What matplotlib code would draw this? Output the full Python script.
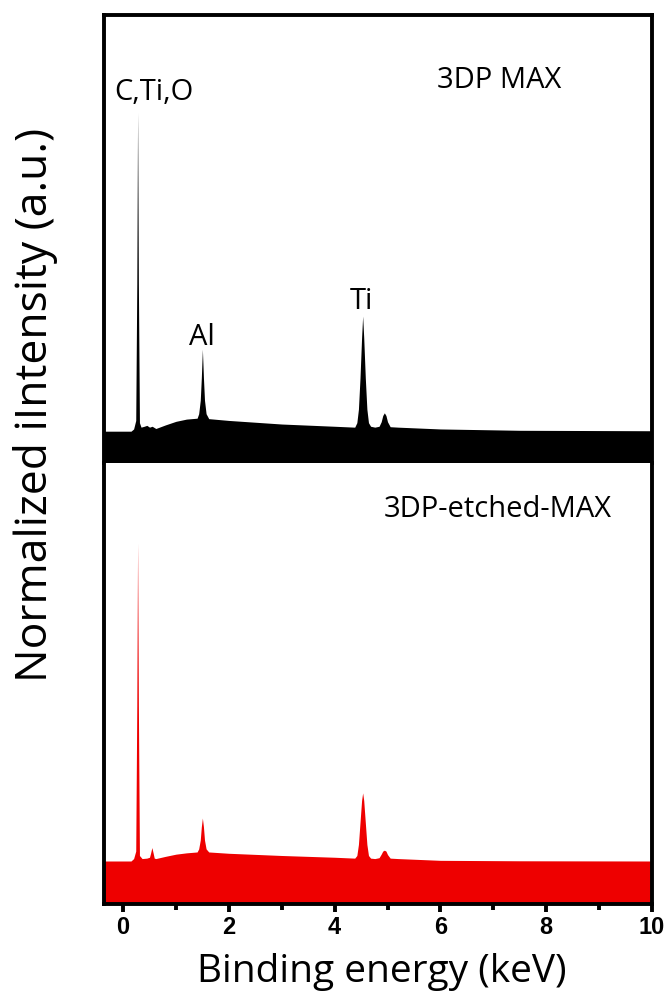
import matplotlib
matplotlib.use("Agg")
import matplotlib.pyplot as plt
from matplotlib.ticker import MultipleLocator

# ---- data (energy in keV, normalized intensity) ----
energy_max = [-0.36, 0.15, 0.20, 0.24, 0.26, 0.275, 0.29, 0.31, 0.34, 0.40, 0.45, 0.50,
              0.55, 0.62, 0.80, 1.00, 1.20, 1.40, 1.43, 1.46, 1.48, 1.50, 1.52, 1.54,
              1.57, 1.62, 2.00, 3.00, 4.00, 4.38, 4.42, 4.45, 4.48, 4.51, 4.53, 4.55,
              4.58, 4.61, 4.64, 4.68, 4.76, 4.84, 4.88, 4.91, 4.94, 4.97, 5.00, 5.05,
              5.20, 6.00, 7.50, 10.00]
intensity_max = [7.1, 7.1, 7.6, 9.5, 40.0, 78.3, 40.0, 9.0, 8.0, 8.2, 8.4, 8.0,
                 8.2, 7.7, 8.5, 9.3, 9.8, 10.0, 11.0, 14.0, 19.0, 25.4, 19.0, 14.0,
                 11.0, 9.9, 9.5, 8.7, 8.2, 8.0, 9.0, 12.0, 19.0, 28.0, 32.8, 28.0,
                 19.0, 12.0, 9.0, 8.2, 8.0, 8.2, 9.2, 10.6, 11.2, 10.6, 9.2, 8.1,
                 8.0, 7.6, 7.3, 7.2]

energy_etched = [-0.36, 0.15, 0.20, 0.24, 0.26, 0.275, 0.29, 0.31, 0.36, 0.45, 0.50, 0.52,
                 0.545, 0.57, 0.59, 0.62, 0.80, 1.00, 1.20, 1.40, 1.43, 1.46, 1.48, 1.50,
                 1.52, 1.54, 1.57, 1.62, 2.00, 3.00, 4.00, 4.38, 4.42, 4.45, 4.48, 4.51,
                 4.53, 4.55, 4.58, 4.61, 4.64, 4.68, 4.76, 4.84, 4.88, 4.91, 4.94, 4.97,
                 5.00, 5.05, 5.20, 6.00, 7.50, 10.00]
intensity_etched = [9.75, 9.75, 10.3, 12.0, 45.0, 81.9, 45.0, 11.0, 10.3, 10.4, 10.6, 11.5,
                    12.8, 11.5, 10.4, 10.3, 10.8, 11.3, 11.6, 11.8, 12.5, 14.5, 17.5, 19.5,
                    17.5, 14.5, 12.5, 11.8, 11.5, 11.0, 10.6, 10.4, 11.0, 13.5, 18.5, 23.5,
                    25.2, 23.5, 18.5, 13.5, 11.0, 10.4, 10.3, 10.5, 11.3, 12.0, 12.2, 12.0,
                    11.2, 10.4, 10.3, 9.9, 9.8, 9.75]

peak_labels = ["C,Ti,O", "Al", "Ti"]
peak_label_x = [-0.16, 1.25, 4.29]
peak_label_y = [81.0, 26.3, 34.4]

sample_names = ["3DP MAX", "3DP-etched-MAX"]
x_ticks = [0, 2, 4, 6, 8, 10]

FONT = "Open Sans"
W, H = 667, 992
fig = plt.figure(figsize=(W / 100, H / 100), dpi=100)

left = 104 / W
right = 652 / W
y_mid = 1 - 463 / H
ax_top = fig.add_axes([left, y_mid, right - left, (1 - 15 / H) - y_mid])
ax_bot = fig.add_axes([left, 1 - 904 / H, right - left, y_mid - (1 - 904 / H)], sharex=ax_top)

spine_w = 2.8
for ax in (ax_top, ax_bot):
    ax.set_xlim(-0.36, 10)
    ax.set_ylim(0, 100)
    ax.set_yticks([])
    for s in ax.spines.values():
        s.set_linewidth(spine_w)
        s.set_color("black")
        s.set_zorder(5)

ax_top.fill_between(energy_max, 0, intensity_max, color="black", lw=0, zorder=2)
ax_bot.fill_between(energy_etched, 0, intensity_etched, color="#ee0000", lw=0, zorder=2)

ax_top.spines["bottom"].set_visible(False)
ax_bot.spines["top"].set_visible(False)
ax_top.tick_params(axis="x", which="both", bottom=False, labelbottom=False)

ax_bot.set_xticks(x_ticks)
ax_bot.xaxis.set_minor_locator(MultipleLocator(1))
ax_bot.tick_params(axis="x", which="major", direction="out", length=6, width=2.8, pad=3)
ax_bot.tick_params(axis="x", which="minor", direction="out", length=4, width=2.8)
for lab in ax_bot.get_xticklabels():
    lab.set_fontfamily("Liberation Sans")
    lab.set_fontweight("bold")
    lab.set_fontsize(17)

for txt, xx, yy in zip(peak_labels, peak_label_x, peak_label_y):
    ax_top.text(xx, yy, txt, fontsize=21, family=FONT, ha="left", va="baseline")

ax_top.text(5.93, 83.7, sample_names[0], fontsize=21, family=FONT, ha="left", va="baseline")
ax_bot.text(4.93, 87.8, sample_names[1], fontsize=21, family=FONT, ha="left", va="baseline")

fig.text(382 / W, 0.010, "Binding energy (keV)", fontsize=28, family=FONT,
         ha="center", va="baseline")
fig.text(36 / W, 1 - 405 / H, "Normalized iIntensity (a.u.)", fontsize=32, family=FONT,
         rotation=90, ha="center", va="center")

fig.savefig("out.png", dpi=100)
